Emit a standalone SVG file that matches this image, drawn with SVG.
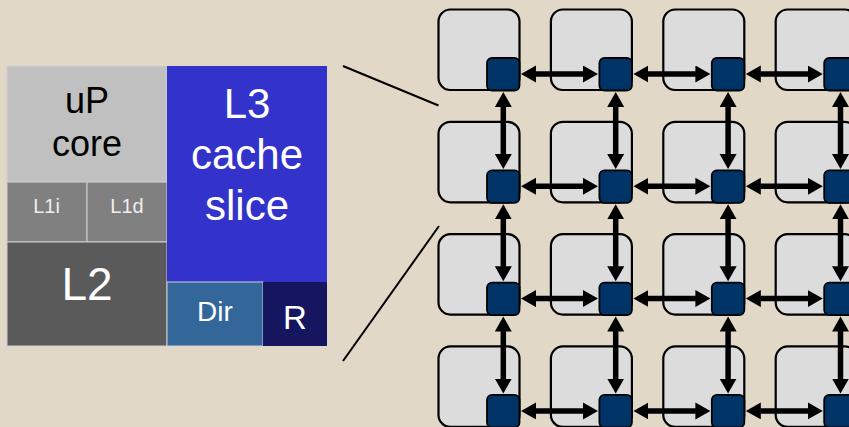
<svg xmlns="http://www.w3.org/2000/svg" width="849" height="427" viewBox="0 0 849 427">
<defs>
<style>
.blk{stroke:#d0d0d0;stroke-width:1}
.t{font-family:"Liberation Sans",Arial,sans-serif;text-anchor:middle}
.w{fill:#ffffff}
.tile{fill:#dcdcdc;stroke:#000;stroke-width:2.2}
.rt{fill:#003366;stroke:#000;stroke-width:1.8}
.arr{stroke:#000;stroke-width:5.5;fill:none;marker-start:url(#ah);marker-end:url(#ah)}
.ln{stroke:#000;stroke-width:2;fill:none}
</style>
<marker id="ah" markerUnits="userSpaceOnUse" markerWidth="16" markerHeight="18" refX="0.5" refY="8.5" orient="auto-start-reverse">
<path d="M0,0 L15,8.5 L0,17 z" fill="#000"/>
</marker>
</defs>
<rect width="849" height="427" fill="#e1d8c7"/>
<g id="tile-detail">
<g id="up-core"><rect class="blk" x="7" y="66" width="160" height="116" fill="#c0c0c0"/>
<text class="t" x="87" y="113" font-size="36">uP</text><text class="t" x="87" y="156" font-size="36">core</text></g>
<g id="l1i"><rect class="blk" x="7" y="182" width="80" height="60" fill="#808080"/><text class="t" x="46.5" y="212.5" font-size="20" fill="#eeeeee">L1i</text></g>
<g id="l1d"><rect class="blk" x="87" y="182" width="80" height="60" fill="#808080"/><text class="t" x="127" y="212.5" font-size="20" fill="#eeeeee">L1d</text></g>
<g id="l2"><rect class="blk" x="7" y="242" width="160" height="104" fill="#5a5a5a"/><text class="t w" x="87" y="300" font-size="46">L2</text></g>
<g id="l3"><rect x="167" y="66" width="160" height="216" fill="#3333cc"/>
<text class="t w" x="247" y="118" font-size="42">L3</text><text class="t w" x="247" y="169" font-size="42">cache</text><text class="t w" x="247" y="220" font-size="42">slice</text></g>
<g id="dir"><rect class="blk" x="167" y="282" width="96" height="64" fill="#336699"/><text class="t w" x="215" y="321" font-size="28">Dir</text></g>
<g id="r"><rect x="263" y="282" width="64" height="64" fill="#151560"/><text class="t w" x="295" y="329" font-size="33">R</text></g>
</g>
<g id="zoom-lines">
<line class="ln" x1="343" y1="66" x2="438.5" y2="105.5"/>
<line class="ln" x1="343" y1="361" x2="439" y2="226"/>
</g>
<g id="nodes">
<g id="n00"><rect class="tile" x="438.5" y="9.5" width="81" height="80.5" rx="12"/><rect class="rt" x="487" y="58" width="32.5" height="32.5" rx="5"/></g>
<g id="n01"><rect class="tile" x="550.9" y="9.5" width="81" height="80.5" rx="12"/><rect class="rt" x="599.4" y="58" width="32.5" height="32.5" rx="5"/></g>
<g id="n02"><rect class="tile" x="663.3" y="9.5" width="81" height="80.5" rx="12"/><rect class="rt" x="711.8" y="58" width="32.5" height="32.5" rx="5"/></g>
<g id="n03"><rect class="tile" x="775.7" y="9.5" width="81" height="80.5" rx="12"/><rect class="rt" x="824.2" y="58" width="32.5" height="32.5" rx="5"/></g>
<g id="n10"><rect class="tile" x="438.5" y="121.8" width="81" height="80.5" rx="12"/><rect class="rt" x="487" y="170.3" width="32.5" height="32.5" rx="5"/></g>
<g id="n11"><rect class="tile" x="550.9" y="121.8" width="81" height="80.5" rx="12"/><rect class="rt" x="599.4" y="170.3" width="32.5" height="32.5" rx="5"/></g>
<g id="n12"><rect class="tile" x="663.3" y="121.8" width="81" height="80.5" rx="12"/><rect class="rt" x="711.8" y="170.3" width="32.5" height="32.5" rx="5"/></g>
<g id="n13"><rect class="tile" x="775.7" y="121.8" width="81" height="80.5" rx="12"/><rect class="rt" x="824.2" y="170.3" width="32.5" height="32.5" rx="5"/></g>
<g id="n20"><rect class="tile" x="438.5" y="234.1" width="81" height="80.5" rx="12"/><rect class="rt" x="487" y="282.6" width="32.5" height="32.5" rx="5"/></g>
<g id="n21"><rect class="tile" x="550.9" y="234.1" width="81" height="80.5" rx="12"/><rect class="rt" x="599.4" y="282.6" width="32.5" height="32.5" rx="5"/></g>
<g id="n22"><rect class="tile" x="663.3" y="234.1" width="81" height="80.5" rx="12"/><rect class="rt" x="711.8" y="282.6" width="32.5" height="32.5" rx="5"/></g>
<g id="n23"><rect class="tile" x="775.7" y="234.1" width="81" height="80.5" rx="12"/><rect class="rt" x="824.2" y="282.6" width="32.5" height="32.5" rx="5"/></g>
<g id="n30"><rect class="tile" x="438.5" y="346.4" width="81" height="80.5" rx="12"/><rect class="rt" x="487" y="394.9" width="32.5" height="32.5" rx="5"/></g>
<g id="n31"><rect class="tile" x="550.9" y="346.4" width="81" height="80.5" rx="12"/><rect class="rt" x="599.4" y="394.9" width="32.5" height="32.5" rx="5"/></g>
<g id="n32"><rect class="tile" x="663.3" y="346.4" width="81" height="80.5" rx="12"/><rect class="rt" x="711.8" y="394.9" width="32.5" height="32.5" rx="5"/></g>
<g id="n33"><rect class="tile" x="775.7" y="346.4" width="81" height="80.5" rx="12"/><rect class="rt" x="824.2" y="394.9" width="32.5" height="32.5" rx="5"/></g>
</g>
<g id="connectors">
<line class="arr" x1="535.5" y1="74" x2="583.5" y2="74"/>
<line class="arr" x1="647.9" y1="74" x2="695.9" y2="74"/>
<line class="arr" x1="760.3" y1="74" x2="808.3" y2="74"/>
<line class="arr" x1="535.5" y1="186.3" x2="583.5" y2="186.3"/>
<line class="arr" x1="647.9" y1="186.3" x2="695.9" y2="186.3"/>
<line class="arr" x1="760.3" y1="186.3" x2="808.3" y2="186.3"/>
<line class="arr" x1="535.5" y1="298.6" x2="583.5" y2="298.6"/>
<line class="arr" x1="647.9" y1="298.6" x2="695.9" y2="298.6"/>
<line class="arr" x1="760.3" y1="298.6" x2="808.3" y2="298.6"/>
<line class="arr" x1="535.5" y1="410.9" x2="583.5" y2="410.9"/>
<line class="arr" x1="647.9" y1="410.9" x2="695.9" y2="410.9"/>
<line class="arr" x1="760.3" y1="410.9" x2="808.3" y2="410.9"/>
<line class="arr" x1="503.3" y1="106.5" x2="503.3" y2="154.5"/>
<line class="arr" x1="503.3" y1="218.8" x2="503.3" y2="266.8"/>
<line class="arr" x1="503.3" y1="331.1" x2="503.3" y2="379.1"/>
<line class="arr" x1="615.7" y1="106.5" x2="615.7" y2="154.5"/>
<line class="arr" x1="615.7" y1="218.8" x2="615.7" y2="266.8"/>
<line class="arr" x1="615.7" y1="331.1" x2="615.7" y2="379.1"/>
<line class="arr" x1="728.1" y1="106.5" x2="728.1" y2="154.5"/>
<line class="arr" x1="728.1" y1="218.8" x2="728.1" y2="266.8"/>
<line class="arr" x1="728.1" y1="331.1" x2="728.1" y2="379.1"/>
<line class="arr" x1="840.5" y1="106.5" x2="840.5" y2="154.5"/>
<line class="arr" x1="840.5" y1="218.8" x2="840.5" y2="266.8"/>
<line class="arr" x1="840.5" y1="331.1" x2="840.5" y2="379.1"/>
</g>
</svg>
